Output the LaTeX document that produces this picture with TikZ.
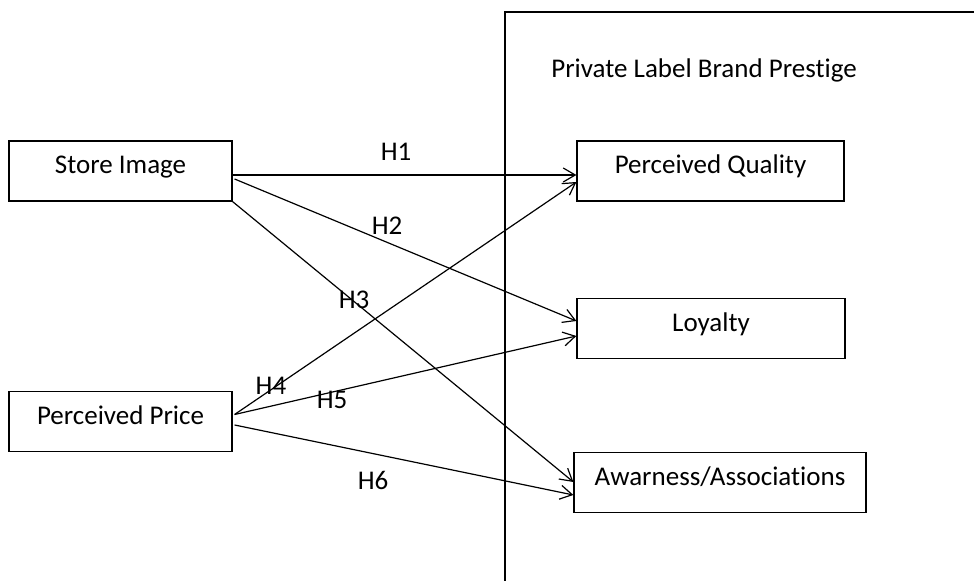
\documentclass[tikz,border=0pt]{standalone}
\usepackage{fontspec}
\setmainfont{Carlito}[Ligatures=NoCommon]
\usetikzlibrary{arrows.meta}
\tikzset{
  box/.style={draw, inner sep=0pt, minimum width=111.5pt, minimum height=30pt,
    text height=16.4pt, text depth=13.6pt},
  link/.style={-{Straight Barb[length=6pt,width=7pt]}},
}
\begin{document}
\begin{tikzpicture}[x=0.5pt,y=-0.5pt,line width=0.6pt,font=\fontsize{13.5}{16}\selectfont]
\useasboundingbox (0,0) rectangle (974,581);
%draw frame of the brand prestige block
\draw (505,590) -- (505,12) -- (980,12);
\node (prestige) at (704,70) {Private Label Brand Prestige};
%draw boxes
\node[box] (store) at (120.5,171) {Store Image};
\node[box] (price) at (120.5,421.5) {Perceived Price};
\node[box, minimum width=133.5pt] (quality) at (710.5,171) {Perceived Quality};
\node[box, minimum width=134pt] (loyalty) at (711,328.5) {Loyalty};
\node[box, minimum width=146pt] (aware) at (720,482.5) {Awarness/Associations};
%draw hypotheses
\draw[link] ([shift={(0,4)}]store.east) -- ([shift={(0,4)}]quality.west);
\draw[link] ([shift={(2,8)}]store.east) -- ([shift={(0,-7.5)}]loyalty.west);
\draw[link] (store.south east) -- ([shift={(0,-0.5)}]aware.west);
\draw[link] ([shift={(2,-7)}]price.east) -- ([shift={(0,11)}]quality.west);
\draw[link] ([shift={(2,-7)}]price.east) -- ([shift={(0,7.5)}]loyalty.west);
\draw[link] ([shift={(2,3.5)}]price.east) -- ([shift={(0,12.5)}]aware.west);
%draw labels
\node (h1) at (396,152) {H1};
\node (h2) at (387,226) {H2};
\node (h3) at (354,300) {H3};
\node (h4) at (271,386) {H4};
\node (h5) at (332,400) {H5};
\node (h6) at (373,480) {H6};
\end{tikzpicture}
\end{document}
